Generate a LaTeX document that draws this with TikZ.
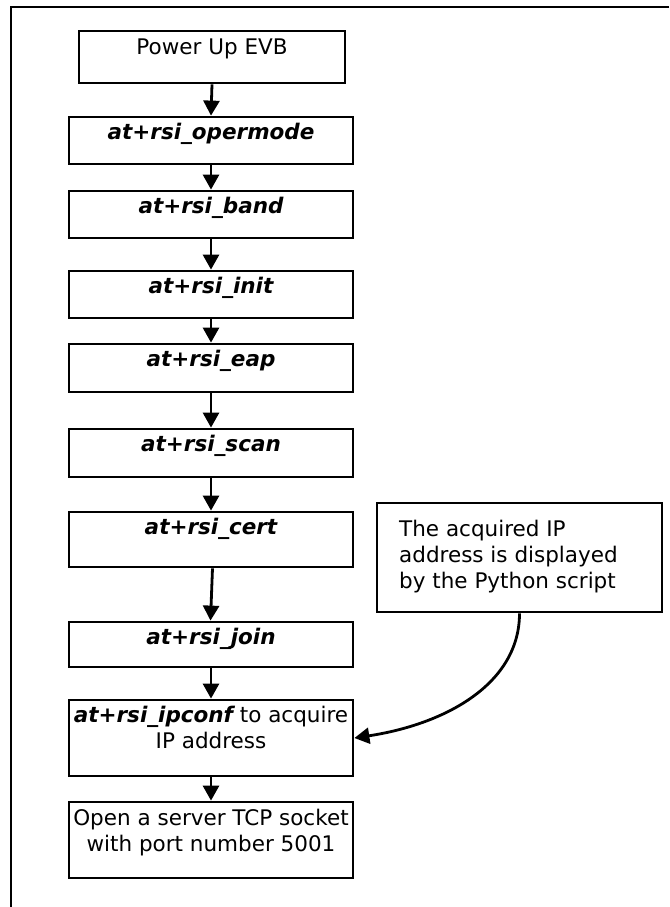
\documentclass[tikz,border=0pt]{standalone}
\usepackage{fontspec}
\setmainfont{DejaVu Sans}
\usetikzlibrary{arrows.meta}
\begin{document}
\begin{tikzpicture}[x=1pt,y=-1pt,
  box/.style={draw=black, line width=2.8pt, inner sep=0pt},
  mainbox/.style={box, minimum width=284pt},
  txt/.style={inner sep=0pt, anchor=base, font=\fontsize{21.5pt}{26pt}\selectfont},
  cmd/.style={inner sep=0pt, anchor=base, font=\fontsize{21.5pt}{26pt}\selectfont\bfseries\itshape},
  notetxt/.style={inner sep=0pt, anchor=base west, font=\fontsize{21.5pt}{26pt}\selectfont},
  flow/.style={line width=2.8pt, -{Triangle[length=15pt,width=16pt]}},
  frameline/.style={line width=2.2pt}]
\useasboundingbox (0,0) rectangle (669,907);
% partial outer frame
\coordinate (ftr) at (669,7);
\coordinate (ftl) at (11,7);
\coordinate (fbl) at (11,907);
\draw[frameline] (ftr) -- (ftl) -- (fbl);

% boxes
\node[box, minimum width=266pt, minimum height=52pt] (pwr) at (212,57) {};
\node[mainbox, minimum height=47pt] (op) at (211,140.5) {};
\node[mainbox, minimum height=47pt] (band) at (211,214.5) {};
\node[mainbox, minimum height=47pt] (init) at (211,294.5) {};
\node[mainbox, minimum height=48pt] (eap) at (211,368) {};
\node[mainbox, minimum height=48pt] (scan) at (211,453) {};
\node[mainbox, minimum height=55pt] (cert) at (211,539.5) {};
\node[mainbox, minimum height=45pt] (join) at (211,644.5) {};
\node[mainbox, minimum height=76pt] (ipc) at (211,738) {};
\node[mainbox, minimum height=76pt] (open) at (211,840) {};
\node[box, minimum width=285pt, minimum height=109pt] (note) at (519.5,557.5) {};

% texts
\node[txt] (pwrT) at (212,55) {Power Up EVB};
\node[cmd] (opT) at (211,139) {at+rsi\_opermode};
\node[cmd] (bandT) at (211,213) {at+rsi\_band};
\node[cmd] (initT) at (211,293) {at+rsi\_init};
\node[cmd] (eapT) at (211,366) {at+rsi\_eap};
\node[cmd] (scanT) at (211,451) {at+rsi\_scan};
\node[cmd] (certT) at (211,534) {at+rsi\_cert};
\node[cmd] (joinT) at (211,644) {at+rsi\_join};
\node[txt] (ipcT1) at (211,722) {{\bfseries\itshape at+rsi\_ipconf} to acquire};
\node[txt] (ipcT2) at (211,748) {IP address};
\node[txt] (openT1) at (211,825) {Open a server TCP socket};
\node[txt] (openT2) at (211,851) {with port number 5001};
\node[notetxt] (noteT1) at (399,536) {The acquired IP};
\node[notetxt] (noteT2) at (399,562) {address is displayed};
\node[notetxt] (noteT3) at (399,588) {by the Python script};

% connectors
\draw[flow] (pwr.south) -- (op.north);
\draw[flow] (op.south) -- (band.north);
\draw[flow] (band.south) -- (init.north);
\draw[flow] (init.south) -- (eap.north);
\draw[flow] (eap.south) -- (scan.north);
\draw[flow] (scan.south) -- (cert.north);
\draw[flow] ([xshift=1.5pt]cert.south) -- ([xshift=-0.5pt]join.north);
\draw[flow] (join.south) -- (ipc.north);
\draw[flow] (ipc.south) -- (open.north);
\draw[flow] (note.south) .. controls +(0,70) and +(92,-14) .. (ipc.east);
\end{tikzpicture}
\end{document}
